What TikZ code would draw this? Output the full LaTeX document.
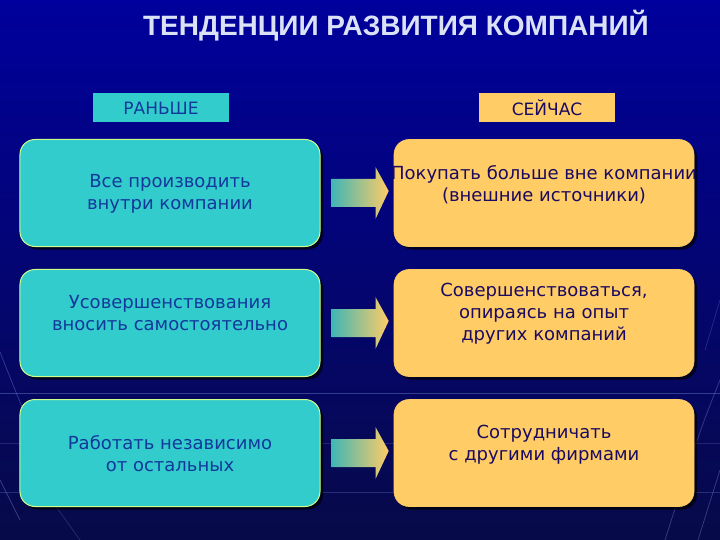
\documentclass[tikz,border=0pt]{standalone}
\usepackage{fontspec}
\setmainfont{DejaVu Sans}
\newfontfamily\titlefont{Liberation Sans}
\usetikzlibrary{calc,shadows}
\definecolor{bgtop}{HTML}{00009C}
\definecolor{bgmid}{HTML}{000A8C}
\definecolor{bgbot}{HTML}{070A48}
\definecolor{turq}{HTML}{33CCCC}
\definecolor{yel}{HTML}{FFCC66}
\definecolor{ltext}{HTML}{12389C}
\definecolor{rtext}{HTML}{1A0A60}
\definecolor{titlec}{HTML}{DCE2F6}
\definecolor{lborder}{HTML}{CCFF88}
\definecolor{gridc}{HTML}{7080D0}
\tikzset{
  leftbox/.style={draw=lborder, line width=1bp, fill=turq, rounded corners=15bp,
    minimum width=300bp, minimum height=107bp, inner sep=0pt,
    drop shadow={shadow xshift=3bp, shadow yshift=-3bp, opacity=0.7, fill=black}},
  rightbox/.style={draw=yel, line width=0.6bp, fill=yel, rounded corners=15bp,
    minimum width=300bp, minimum height=107bp, inner sep=0pt,
    drop shadow={shadow xshift=3bp, shadow yshift=-3bp, opacity=0.7, fill=black}},
  ltxt/.style={align=center, text=ltext, font=\fontsize{18bp}{22bp}\selectfont, inner sep=0pt},
  rtxt/.style={align=center, text=rtext, font=\fontsize{18bp}{22bp}\selectfont, inner sep=0pt},
  headl/.style={fill=turq, minimum width=136bp, minimum height=29bp, inner sep=0pt,
    text=ltext, font=\fontsize{17bp}{20bp}\selectfont},
  headr/.style={fill=yel, minimum width=136bp, minimum height=29bp, inner sep=0pt,
    text=rtext, font=\fontsize{17bp}{20bp}\selectfont},
  gridline/.style={draw=gridc, line width=0.7bp, opacity=0.45},
  arrowshade/.style={left color=turq!85!black!90, right color=yel, shading angle=90}
}
\begin{document}
\begin{tikzpicture}[x=1bp,y=-1bp]
\useasboundingbox (0,0) rectangle (720,540);
% background
\shade[top color=bgtop, middle color=bgmid, bottom color=bgbot] (0,0) rectangle (720,540);
% faint decorative grid
\draw[gridline] (0,393) -- (720,393);
\draw[gridline, opacity=0.25] (0,443) -- (720,443);
\draw[gridline, opacity=0.3] (0,492) -- (720,492);
\draw[gridline] (0,352) .. controls (15,390) .. (40,450);
\draw[gridline] (0,480) .. controls (10,500) .. (20,520);
\draw[gridline, opacity=0.3] (55,505) -- (80,540);
\draw[gridline] (720,380) .. controls (700,430) .. (665,540);
\draw[gridline] (720,470) -- (698,540);
\draw[gridline, opacity=0.3] (720,300) -- (705,350);
% title
\node[anchor=base, text=titlec, font=\titlefont\bfseries\fontsize{28bp}{32bp}\selectfont] (title) at (396,36) {ТЕНДЕНЦИИ РАЗВИТИЯ КОМПАНИЙ};
% headers
\node[headl] (hl) at (161,108) {РАНЬШЕ};
\node[headr] (hr) at (547,108) {СЕЙЧАС};
% boxes
\node[leftbox] (l1) at (170,193) {};
\node[leftbox] (l2) at (170,323) {};
\node[leftbox] (l3) at (170,453) {};
\node[rightbox] (r1) at (544,193) {};
\node[rightbox] (r2) at (544,323) {};
\node[rightbox] (r3) at (544,453) {};
% texts
\node[ltxt] (lt1) at ([yshift=-1bp]l1.center) {Все производить\\внутри компании};
\node[ltxt] (lt2) at ([yshift=10bp]l2.center) {Усовершенствования\\вносить самостоятельно};
\node[ltxt] (lt3) at ([yshift=-1bp]l3.center) {Работать независимо\\от остальных};
\node[rtxt] (rt1) at ([yshift=8bp]r1.center) {Покупать больше вне компании\\(внешние источники)};
\node[rtxt] (rt2) at ([yshift=9bp]r2.center) {Совершенствоваться,\\опираясь на опыт\\других компаний};
\node[rtxt] (rt3) at ([yshift=8bp]r3.center) {Сотрудничать\\с другими фирмами};
% arrows
\foreach \i in {1,2,3}{
  \shade[arrowshade]
    ($(l\i.east)+(11,-14)$) -- ($(l\i.east)+(55,-14)$) -- ($(l\i.east)+(55,-26)$)
    -- ($(r\i.west)+(-5,-2)$)
    -- ($(l\i.east)+(55,26)$) -- ($(l\i.east)+(55,14)$) -- ($(l\i.east)+(11,14)$) -- cycle;
}
\end{tikzpicture}
\end{document}
